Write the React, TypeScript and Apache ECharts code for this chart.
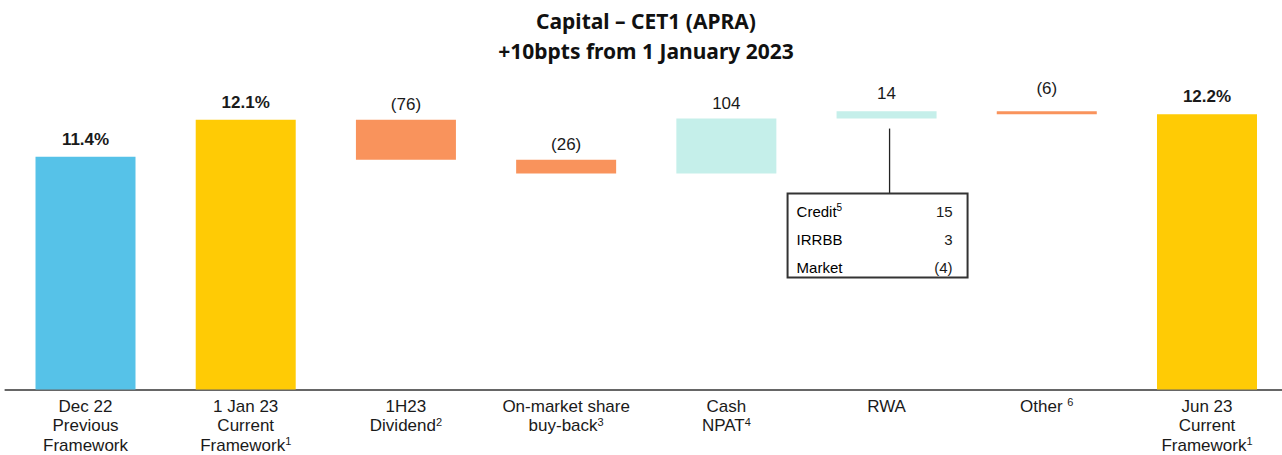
import React, { useEffect, useRef } from "react";
import * as echarts from "echarts";

const categories = ["Dec 22", "1 Jan 23", "1H23", "On-market share buy-back", "Cash NPAT", "RWA", "Other", "Jun 23"];
const tickLabels = [
  "Dec 22\nPrevious\nFramework",
  "1 Jan 23\nCurrent\nFramework{s|1}",
  "1H23\nDividend{s|2}",
  "On-market share\nbuy-back{s|3}",
  "Cash\nNPAT{s|4}",
  "RWA",
  "Other {s|6}",
  "Jun 23\nCurrent\nFramework{s|1}",
];
// CET1 ratio totals (%)
const totals: (number | null)[] = [11.4, 12.1, null, null, null, null, null, 12.2];
// movements in bps
const movementsBps: (number | null)[] = [null, null, -76, -26, 104, 14, -6, null];
const totalColors = ["#56C2E8", "#FFCB05", "", "", "", "", "", "#FFCB05"];

const rwaBoxLabels = ["Credit", "IRRBB", "Market"];
const rwaBoxSup = ["5", "", ""];
const rwaBoxValues = [15, 3, -4];

const fmtBps = (v: number) => (v < 0 ? `(${Math.abs(v)})` : `${v}`);

export default function App() {
  const ref = useRef<HTMLDivElement>(null);
  useEffect(() => {
    if (!ref.current) return;
    const chart = echarts.init(ref.current, null, { renderer: "svg" });

    // build waterfall
    let running = 0;
    const base: any[] = [];
    const dec: any[] = [];
    const inc: any[] = [];
    const tot: any[] = [];
    movementsBps.forEach((m, i) => {
      const t = totals[i];
      if (t != null) {
        running = t;
        base.push("-");
        dec.push("-");
        inc.push("-");
        tot.push({ value: t, itemStyle: { color: totalColors[i] } });
      } else if (m != null) {
        const next = running + m / 100;
        base.push(+Math.min(running, next).toFixed(4));
        const h = +Math.abs(m / 100).toFixed(4);
        const distance = i === 6 ? 14 : i === 5 ? 9 : 7;
        if (m < 0) {
          dec.push({ value: h, raw: m, label: { distance } });
          inc.push("-");
        } else {
          inc.push({ value: h, raw: m, label: { distance } });
          dec.push("-");
        }
        tot.push("-");
        running = next;
      }
    });

    const labelFont = "'Liberation Sans', Arial, sans-serif";
    const moveLabel = {
      show: true,
      position: "top",
      fontFamily: labelFont,
      fontSize: 17,
      color: "#1a1a1a",
      formatter: (p: any) => fmtBps(movementsBps[p.dataIndex] as number),
    };

    chart.setOption({
      animation: false,
      title: {
        text: "Capital – CET1 (APRA)\n+10bpts from 1 January 2023",
        left: 641,
        textAlign: "center",
        top: 1,
        textStyle: {
          fontFamily: "'Noto Sans', sans-serif",
          fontWeight: "bold",
          fontSize: 21,
          lineHeight: 30,
          color: "#111",
        },
      },
      grid: { left: 5.4, right: 2.9, top: 72, bottom: 65.5 },
      xAxis: {
        type: "category",
        data: categories,
        axisLine: { lineStyle: { color: "#666", width: 2 } },
        axisTick: { show: false },
        axisLabel: {
          interval: 0,
          margin: 7,
          fontFamily: labelFont,
          fontSize: 17,
          lineHeight: 19.5,
          color: "#1a1a1a",
          formatter: (_: string, i: number) => tickLabels[i],
          rich: {
            s: { fontFamily: labelFont, fontSize: 11, verticalAlign: "top", lineHeight: 12, color: "#1a1a1a" },
          },
        },
      },
      yAxis: { type: "value", min: 7, max: 13, show: false, splitLine: { show: false } },
      series: [
        {
          name: "base",
          type: "bar",
          stack: "w",
          barWidth: 100,
          itemStyle: { color: "transparent" },
          emphasis: { disabled: true },
          data: base,
        },
        {
          name: "total",
          type: "bar",
          stack: "w",
          barWidth: 100,
          data: tot,
          label: {
            show: true,
            position: "top",
            distance: 9,
            fontFamily: labelFont,
            fontWeight: "bold",
            fontSize: 17,
            color: "#1a1a1a",
            formatter: (p: any) => `${p.value.toFixed(1)}%`,
          },
        },
        {
          name: "decrease",
          type: "bar",
          stack: "w",
          barWidth: 100,
          itemStyle: { color: "#F9935C" },
          data: dec,
          label: moveLabel,
        },
        {
          name: "increase",
          type: "bar",
          stack: "w",
          barWidth: 100,
          itemStyle: { color: "#C5EFEA" },
          data: inc,
          label: moveLabel,
        },
      ],
    });

    // RWA breakdown box anchored to the RWA bar
    const cx = chart.convertToPixel({ xAxisIndex: 0 }, "RWA") as number;
    const rwaIdx = categories.indexOf("RWA");
    const barBottom = chart.convertToPixel({ yAxisIndex: 0 }, base[rwaIdx]) as number;
    const lx = cx + 3;
    const boxTop = barBottom + 75;
    const boxLeft = lx - 102;
    const boxW = 180;
    const boxH = 84;
    const rowGap = 28;
    const children: any[] = [
      { type: "line", shape: { x1: lx, y1: barBottom + 10, x2: lx, y2: boxTop }, style: { stroke: "#222", lineWidth: 1.3 } },
      { type: "rect", shape: { x: boxLeft, y: boxTop, width: boxW, height: boxH }, style: { fill: "#fff", stroke: "#333", lineWidth: 2 } },
    ];
    rwaBoxLabels.forEach((lab, i) => {
      const y = boxTop + 18 + i * rowGap;
      children.push({
        type: "text",
        x: boxLeft + 9,
        y,
        style: {
          text: rwaBoxSup[i] ? `{a|${lab}}{s|${rwaBoxSup[i]}}` : `{a|${lab}}`,
          verticalAlign: "middle",
          rich: {
            a: { fontFamily: labelFont, fontSize: 15, color: "#1a1a1a", lineHeight: 18 },
            s: { fontFamily: labelFont, fontSize: 10, color: "#1a1a1a", verticalAlign: "top", lineHeight: 13 },
          },
        },
      });
      children.push({
        type: "text",
        x: boxLeft + boxW - 15,
        y,
        style: {
          text: fmtBps(rwaBoxValues[i]),
          align: "right",
          verticalAlign: "middle",
          fontFamily: labelFont,
          fontSize: 15,
          fill: "#1a1a1a",
        },
      });
    });
    chart.setOption({ graphic: [{ type: "group", children }] });

    return () => chart.dispose();
  }, []);
  return (
    <div style={{ position: "absolute", left: 0, top: 0, width: 1282, height: 455, overflow: "hidden" }}>
      <div ref={ref} style={{ width: 1290, height: 455 }} />
    </div>
  );
}
